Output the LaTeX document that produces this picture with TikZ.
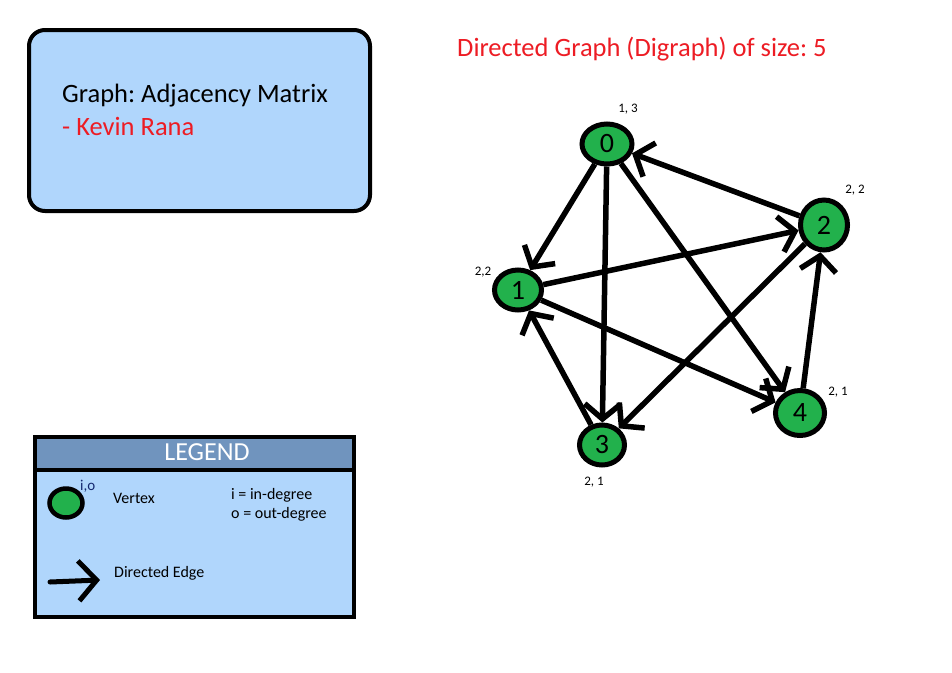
\documentclass[tikz,border=0pt]{standalone}
\usepackage{fontspec}
\setmainfont{Carlito}
\frenchspacing
\usetikzlibrary{shapes.geometric,arrows.meta}
\definecolor{pgreen}{RGB}{34,177,76}
\definecolor{pred}{RGB}{237,28,36}
\definecolor{lblue}{RGB}{176,214,252}
\definecolor{hblue}{RGB}{112,148,190}
\definecolor{navy}{RGB}{20,40,110}
\tikzset{
  vertex/.style={ellipse, draw, line width=5pt, fill=pgreen, inner sep=0pt, font=\fontsize{28}{28}\selectfont},
  edge/.style={line width=5.5pt, -{Straight Barb[length=15pt,width=36pt]}},
  deg/.style={font=\fontsize{13}{13}\selectfont, inner sep=0pt, anchor=base},
  body/.style={font=\fontsize{26.5}{26.5}\selectfont, inner sep=0pt, anchor=base west},
  small/.style={font=\fontsize{16}{16}\selectfont, inner sep=0pt, anchor=base west}
}
\begin{document}
\begin{tikzpicture}[x=1pt,y=-1pt]
\useasboundingbox[fill=white] (0,0) rectangle (952,672);
% title box
\draw[line width=4pt, fill=lblue, rounded corners=16pt] (29,30) rectangle (370,211);
\node[body] (t1) at (62,102) {Graph: Adjacency Matrix};
\node[body, text=pred] (t2) at (62,135) {- Kevin Rana};
% title
\node[body, text=pred] (title) at (457,56) {Directed Graph (Digraph) of size: 5};
% vertices
\node[vertex, minimum width=50pt, minimum height=40pt] (n0) at (607,144) {0};
\node[vertex, minimum width=47pt, minimum height=50pt] (n2) at (824,225) {2};
\node[vertex, minimum width=47pt, minimum height=40pt] (n1) at (518,290) {1};
\node[vertex, minimum width=45pt, minimum height=40pt] (n3) at (602,445) {3};
\node[vertex, minimum width=49pt, minimum height=45pt] (n4) at (800,413) {4};
% degree labels
\node[deg] (d0) at (628,112) {1, 3};
\node[deg] (d2) at (855,193) {2, 2};
\node[deg] (d1) at (483,275) {2,2};
\node[deg] (d4) at (838,395) {2, 1};
\node[deg] (d3) at (594,485) {2, 1};
% edges
\draw[edge] (n0) -- (n1);
\draw[edge] (n0) -- (n3);
\draw[edge] (n0) -- (n4);
\draw[edge] (n2) -- (n0);
\draw[edge] (n1) -- (n2);
\draw[edge] (n1) -- (n4);
\draw[edge] (n2) -- (n3);
\draw[edge] (n4) -- (n2);
\draw[edge] (n3) -- (n1);
% legend
\draw[line width=4pt, fill=lblue] (35,437) rectangle (354,617);
\fill[hblue] (37,439) rectangle (352,468);
\draw[line width=3.5pt] (35,470) -- (354,470);
\node[font=\fontsize{26}{26}\selectfont, text=white, inner sep=0pt, anchor=base] (lg) at (207,460) {LEGEND};
\node[ellipse, draw, line width=4.5pt, fill=pgreen, minimum width=33pt, minimum height=29pt, inner sep=0pt] (lv) at (66,503) {};
\node[font=\fontsize{15}{15}\selectfont, text=navy, inner sep=0pt, anchor=base west] (lio) at (80,490) {i,o};
\node[small] (lvt) at (113,503) {Vertex};
\node[small] (li) at (231,499) {i = in-degree};
\node[small] (lo) at (231,518) {o = out-degree};
\coordinate (ea) at (50,582);
\coordinate (eb) at (100,580);
\draw[line width=5pt, line cap=round, -{Straight Barb[length=18pt,width=40pt]}] (ea) -- (eb);
\node[small] (le) at (114,577) {Directed Edge};
\end{tikzpicture}
\end{document}
